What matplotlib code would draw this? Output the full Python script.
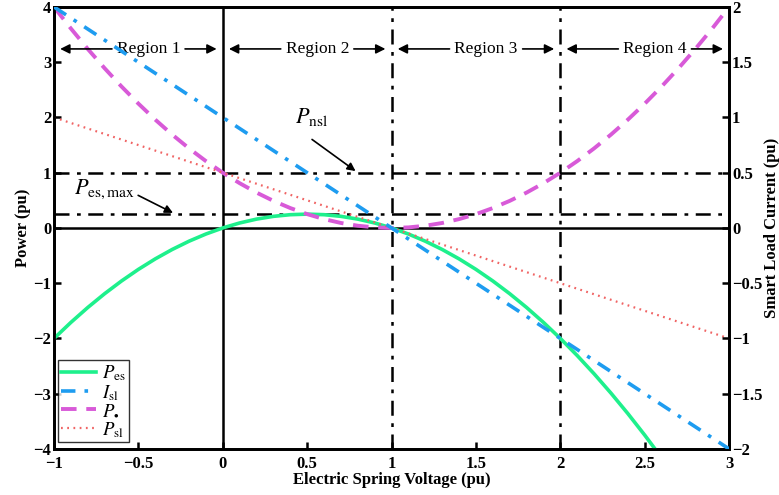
import numpy as np
import matplotlib
matplotlib.use("Agg")
import matplotlib.pyplot as plt

plt.rcParams['font.family'] = ['Liberation Serif', 'DejaVu Serif']
plt.rcParams['mathtext.fontset'] = 'stix'

# values
V = [-1.0, -0.9, -0.8, -0.7, -0.6, -0.5, -0.4, -0.3, -0.2, -0.1, 0.0,
     0.1, 0.2, 0.3, 0.4, 0.5, 0.6, 0.7, 0.8, 0.9, 1.0,
     1.1, 1.2, 1.3, 1.4, 1.5, 1.6, 1.7, 1.8, 1.9, 2.0,
     2.1, 2.2, 2.3, 2.4, 2.5, 2.6, 2.7, 2.8, 2.9, 3.0]
P_es = [-2.0, -1.71, -1.44, -1.19, -0.96, -0.75, -0.56, -0.39, -0.24, -0.11, 0.0,
        0.09, 0.16, 0.21, 0.24, 0.25, 0.24, 0.21, 0.16, 0.09, 0.0,
        -0.11, -0.24, -0.39, -0.56, -0.75, -0.96, -1.19, -1.44, -1.71, -2.0,
        -2.31, -2.64, -2.99, -3.36, -3.75, -4.16]
P_dot = [4.0, 3.61, 3.24, 2.89, 2.56, 2.25, 1.96, 1.69, 1.44, 1.21, 1.0,
         0.81, 0.64, 0.49, 0.36, 0.25, 0.16, 0.09, 0.04, 0.01, 0.0,
         0.01, 0.04, 0.09, 0.16, 0.25, 0.36, 0.49, 0.64, 0.81, 1.0,
         1.21, 1.44, 1.69, 1.96, 2.25, 2.56, 2.89, 3.24, 3.61, 4.0]
V_lin = [-1.0, 0.0, 1.0, 2.0, 3.0]
I_sl = [2.0, 1.0, 0.0, -1.0, -2.0]      # right axis (pu)
P_sl = [2.0, 1.0, 0.0, -1.0, -2.0]      # left axis (pu)

P_nsl = 1.0
P_es_max = 0.25
regions = ['Region 1', 'Region 2', 'Region 3', 'Region 4']

c_green = '#1ef08c'
c_blue = '#1e9cf0'
c_mag = '#d85ad8'
c_red = '#f06464'

fig = plt.figure(figsize=(7.79, 4.95), dpi=100)
ax = fig.add_axes([0.0693, 0.093, 0.8667, 0.893])
ax2 = ax.twinx()

# reference lines
ax.axhline(0, color='k', lw=1.8, zorder=1)
ax.axvline(0, color='k', lw=1.8, zorder=1)
for xv in [1, 2]:
    ax.axvline(xv, color='k', lw=1.8, ls=(0, (6, 3, 1.5, 3)), zorder=1)
for yv in [P_nsl, P_es_max]:
    ax.axhline(yv, color='k', lw=1.8, ls=(0, (6, 3, 1.5, 3)), zorder=1)

l1, = ax.plot(V[:len(P_es)], P_es, color=c_green, lw=2.6, label=r'$P_{\rm es}$', zorder=3)
l3, = ax.plot(V, P_dot, color=c_mag, lw=2.8, ls=(0, (4, 2.5)), label=r'$P_{\bullet}$', zorder=3)
l4, = ax.plot(V_lin, P_sl, color=c_red, lw=1.6, ls=(0, (0.8, 2.0)), label=r'$P_{\rm sl}$', zorder=3)
l2, = ax2.plot(V_lin, I_sl, color=c_blue, lw=2.6, ls=(0, (4, 2.5, 1, 2.5)), label=r'$I_{\rm sl}$', zorder=3)

ax.set_xlim(-1, 3)
ax.set_ylim(-4, 4)
ax2.set_ylim(-2, 2)
ax.set_xticks([-1, -0.5, 0, 0.5, 1, 1.5, 2, 2.5, 3])
ax.set_xticklabels(['\u22121', '\u22120.5', '0', '0.5', '1', '1.5', '2', '2.5', '3'])
ax.set_yticks(range(-4, 5))
ax.set_yticklabels(['\u2212%d' % -t if t < 0 else '%d' % t for t in range(-4, 5)])
rt = [-2, -1.5, -1, -0.5, 0, 0.5, 1, 1.5, 2]
ax2.set_yticks(rt)
ax2.set_yticklabels([('%g' % t).replace('-', '\u2212') for t in rt])

for a in (ax, ax2):
    a.tick_params(direction='in', length=5, width=1.8, labelsize=12, pad=2)
    for lab in a.get_xticklabels() + a.get_yticklabels():
        lab.set_fontweight('bold')
    for s in a.spines.values():
        s.set_linewidth(2)
ax.tick_params(axis='x', pad=5)

ax.set_xlabel('Electric Spring Voltage (pu)', fontsize=12, fontweight='bold', labelpad=0)
ax.set_ylabel('Power (pu)', fontsize=12, fontweight='bold', labelpad=2)
ax2.set_ylabel('Smart Load Current (pu)', fontsize=12, fontweight='bold', labelpad=1)

# region arrows
ya = 3.24
for i, name in enumerate(regions):
    x0, x1 = i - 1, i
    xc = x0 + 0.56
    ax.text(xc, ya, name, ha='center', va='center', fontsize=12.5, zorder=4)
    ax.annotate('', xy=(x0 + 0.02, ya), xytext=(xc - 0.2, ya),
                arrowprops=dict(arrowstyle='-|>', color='k', lw=1.2, mutation_scale=14))
    ax.annotate('', xy=(x1 - 0.02, ya), xytext=(xc + 0.2, ya),
                arrowprops=dict(arrowstyle='-|>', color='k', lw=1.2, mutation_scale=14))

ax.annotate(r'$P_{\rm nsl}$', xy=(0.8, P_nsl), xytext=(0.43, 2.0), fontsize=16,
            ha='left', va='center',
            arrowprops=dict(arrowstyle='-|>', color='k', lw=1.2, mutation_scale=12,
                            shrinkA=0, relpos=(0.5, -0.5)))
ax.annotate(r'$P_{\rm es,max}$', xy=(-0.28, P_es_max), xytext=(-0.88, 0.7), fontsize=16,
            ha='left', va='center',
            arrowprops=dict(arrowstyle='-|>', color='k', lw=1.2, mutation_scale=12,
                            shrinkA=0, relpos=(1.0, 0.3)))

leg = ax.legend(handles=[l1, l2, l3, l4], loc='lower left', bbox_to_anchor=(0.006, 0.015),
                fontsize=13.5, frameon=True, fancybox=False, edgecolor='k',
                borderpad=0.15, labelspacing=0.0, handlelength=1.9, handletextpad=0.3,
                borderaxespad=0)
leg.get_frame().set_linewidth(1.0)
leg.set_zorder(10)

fig.savefig('out.png', dpi=100)
